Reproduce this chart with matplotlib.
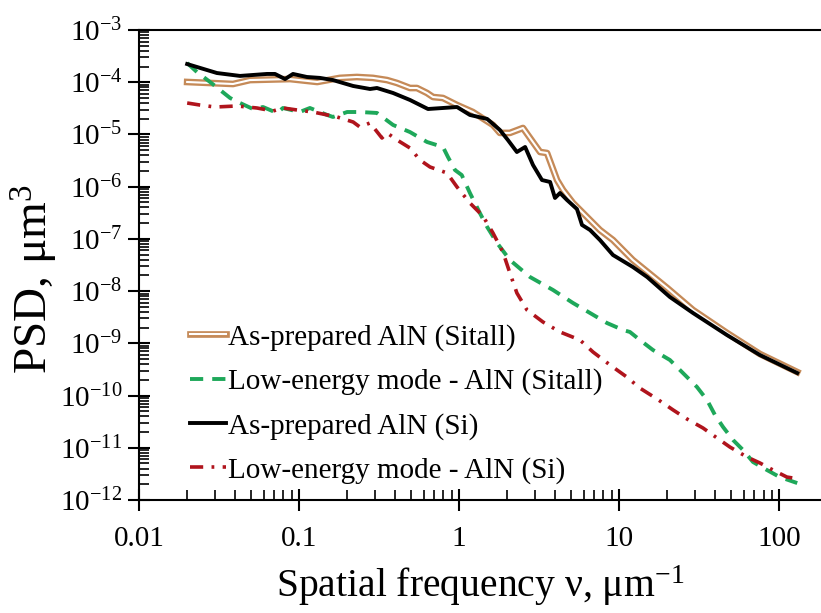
import matplotlib
matplotlib.use('Agg')
import matplotlib.pyplot as plt
import matplotlib.ticker as ticker
import matplotlib.patheffects as pe

plt.rcParams['font.family'] = ['Liberation Serif', 'DejaVu Serif']
plt.rcParams['mathtext.fontset'] = 'custom'
plt.rcParams['mathtext.rm'] = 'Liberation Serif'
plt.rcParams['mathtext.it'] = 'Liberation Serif:italic'
plt.rcParams['font.size'] = 20
plt.rcParams['lines.scale_dashes'] = False

# As-prepared AlN (Sitall)
nu_sitall = [0.0200, 0.0387, 0.0494, 0.0879, 0.130, 0.180, 0.230, 0.290, 0.355, 0.410,
             0.494, 0.546, 0.631, 0.688, 0.794, 0.972, 1.22, 1.63, 1.80, 2.08,
             2.51, 2.78, 3.21, 3.55, 4.10, 4.47, 5.16, 5.96, 7.60, 9.17,
             12.2, 20.0, 29.0, 47.3, 76.0, 130]
psd_sitall = [1.01e-4, 9.25e-5, 1.10e-4, 1.15e-4, 1.01e-4, 1.21e-4, 1.26e-4, 1.21e-4, 1.10e-4, 9.66e-5,
              7.75e-5, 7.75e-5, 6.22e-5, 5.21e-5, 4.99e-5, 3.66e-5, 2.69e-5, 1.52e-5, 1.07e-5, 1.07e-5,
              1.33e-5, 8.55e-6, 4.61e-6, 4.41e-6, 1.34e-6, 8.63e-7, 4.87e-7, 3.13e-7, 1.48e-7, 9.52e-8,
              3.94e-8, 1.15e-8, 4.35e-9, 1.58e-9, 6.25e-10, 2.82e-10]

# Low-energy mode - AlN (Sitall)
nu_sitall_le = [0.0200, 0.0230, 0.0278, 0.0371, 0.0428, 0.0516, 0.0596, 0.0729, 0.0794, 0.101,
                0.117, 0.150, 0.163, 0.200, 0.240, 0.307, 0.387, 0.494, 0.631, 0.794,
                0.853, 0.944, 1.04, 1.17, 1.35, 1.50, 1.73, 2.08, 2.78, 3.87,
                5.16, 6.59, 8.41, 10.6, 11.7, 13.5, 16.3, 20.8, 25.1, 30.7,
                35.5, 39.8, 44.7, 51.6, 59.6, 68.8, 84.1, 101, 130]
psd_sitall_le = [2.33e-4, 1.57e-4, 1.01e-4, 4.99e-5, 4.00e-5, 3.07e-5, 3.35e-5, 2.58e-5, 3.21e-5, 2.69e-5,
                 3.21e-5, 2.36e-5, 2.16e-5, 2.69e-5, 2.69e-5, 2.58e-5, 1.52e-5, 1.11e-5, 7.17e-6, 5.75e-6,
                 3.70e-6, 2.08e-6, 1.67e-6, 7.57e-7, 3.13e-7, 1.69e-7, 8.34e-8, 3.94e-8, 1.86e-8, 1.05e-8,
                 5.92e-9, 3.81e-9, 2.45e-9, 1.80e-9, 1.65e-9, 1.16e-9, 7.45e-10, 4.80e-10, 2.70e-10, 1.46e-10,
                 8.22e-11, 4.24e-11, 2.50e-11, 1.41e-11, 9.06e-12, 5.34e-12, 3.75e-12, 2.75e-12, 2.11e-12]

# As-prepared AlN (Si)
nu_si = [0.0200, 0.0307, 0.0428, 0.0631, 0.0708, 0.0818, 0.0917, 0.112, 0.135, 0.163,
         0.218, 0.278, 0.307, 0.387, 0.494, 0.640, 0.972, 1.17, 1.50, 1.80,
         2.02, 2.30, 2.59, 2.90, 3.30, 3.71, 3.98, 4.28, 4.73, 5.46,
         5.87, 6.59, 7.60, 9.17, 12.2, 15.0, 20.8, 29.0, 47.3, 76.0, 130]
psd_si = [2.23e-4, 1.50e-4, 1.32e-4, 1.44e-4, 1.44e-4, 1.15e-4, 1.44e-4, 1.26e-4, 1.21e-4, 1.10e-4,
          8.47e-5, 7.42e-5, 7.75e-5, 6.22e-5, 4.57e-5, 3.07e-5, 3.35e-5, 2.36e-5, 1.98e-5, 1.22e-5,
          7.83e-6, 4.61e-6, 5.75e-6, 2.60e-6, 1.34e-6, 1.23e-6, 6.07e-7, 7.57e-7, 5.56e-7, 3.73e-7,
          1.85e-7, 1.48e-7, 9.52e-8, 4.91e-8, 2.90e-8, 1.86e-8, 7.71e-9, 3.81e-9, 1.44e-9, 5.97e-10, 2.70e-10]

# Low-energy mode - AlN (Si)
nu_si_le = [0.0200, 0.0240, 0.0299, 0.0410, 0.0546, 0.0688, 0.0794, 0.0972, 0.122, 0.141,
            0.173, 0.218, 0.240, 0.278, 0.330, 0.355, 0.410, 0.494, 0.570, 0.659,
            0.841, 0.972, 1.17, 1.41, 1.63, 1.88, 2.08, 2.30, 2.66, 3.35,
            4.28, 5.70, 6.88, 8.79, 11.2, 13.5, 17.3, 21.8, 26.6, 33.5,
            41.0, 49.4, 63.1, 76.0, 91.7, 112, 122]
psd_si_le = [4.00e-5, 3.66e-5, 3.35e-5, 3.51e-5, 3.21e-5, 2.81e-5, 3.21e-5, 2.94e-5, 2.69e-5, 2.46e-5,
             2.16e-5, 1.73e-5, 1.39e-5, 1.66e-5, 8.55e-6, 1.07e-5, 7.83e-6, 5.50e-6, 3.24e-6, 2.38e-6,
             1.83e-6, 9.86e-7, 4.87e-7, 2.74e-7, 1.30e-7, 5.61e-8, 2.22e-8, 9.20e-9, 4.35e-9, 2.56e-9,
             1.65e-9, 1.16e-9, 6.82e-10, 3.85e-10, 2.26e-10, 1.39e-10, 8.59e-11, 5.29e-11, 3.56e-11, 2.39e-11,
             1.54e-11, 1.03e-11, 6.65e-12, 5.11e-12, 3.75e-12, 2.75e-12, 2.64e-12]

labels = ['As-prepared AlN (Sitall)', 'Low-energy mode - AlN (Sitall)',
          'As-prepared AlN (Si)', 'Low-energy mode - AlN (Si)']

fig = plt.figure(figsize=(8.21, 6.13), dpi=100)
ax = fig.add_axes([139 / 821, 113 / 613, 682 / 821, 470 / 613])

brown = '#c58a58'
ax.plot(nu_sitall, psd_sitall, color='white', lw=1.5, label=labels[0],
        path_effects=[pe.Stroke(linewidth=4.8, foreground=brown), pe.Normal()])
ax.plot(nu_sitall_le, psd_sitall_le, color='#1ea85a', lw=2.8, dashes=(9.5, 6.5), label=labels[1])
ax.plot(nu_si, psd_si, color='black', lw=2.8, label=labels[2])
ax.plot(nu_si_le, psd_si_le, color='#b0141c', lw=2.6, dashes=(9.5, 6, 2, 6), label=labels[3])

ax.set_xscale('log')
ax.set_yscale('log')
ax.set_xlim(0.01, 183)
ax.set_ylim(1e-12, 1e-3)

ax.xaxis.set_major_locator(ticker.LogLocator(base=10, numticks=20))
ax.xaxis.set_minor_locator(ticker.LogLocator(base=10, subs=range(2, 10), numticks=20))
ax.xaxis.set_major_formatter(ticker.FuncFormatter(lambda v, p: '{:g}'.format(v)))
ax.xaxis.set_minor_formatter(ticker.NullFormatter())
ax.yaxis.set_major_locator(ticker.LogLocator(base=10, numticks=20))
ax.yaxis.set_minor_locator(ticker.LogLocator(base=10, subs=range(2, 10), numticks=20))
ax.yaxis.set_minor_formatter(ticker.NullFormatter())

ax.tick_params(which='major', direction='inout', length=16, width=1.5, labelsize=21)
ax.tick_params(axis='x', which='major', pad=11)
ax.tick_params(axis='y', which='major', pad=4)
ax.tick_params(which='minor', direction='in', length=7, width=1.2)

for s in ['left', 'bottom', 'top']:
    ax.spines[s].set_linewidth(1.5)
ax.spines['right'].set_visible(False)

ax.set_xlabel('Spatial frequency ν, μm$^{-1}$', fontsize=28.5, labelpad=8)
ax.set_ylabel('PSD, μm$^{3}$', fontsize=34, labelpad=0)
ax.yaxis.label.set_y(0.47)

ax.legend(loc='lower left', bbox_to_anchor=(0.053, 0.003), frameon=False,
          handlelength=1.26, handletextpad=0.05, labelspacing=0.6, borderpad=0,
          fontsize=21)

fig.savefig('out.png', dpi=100)
